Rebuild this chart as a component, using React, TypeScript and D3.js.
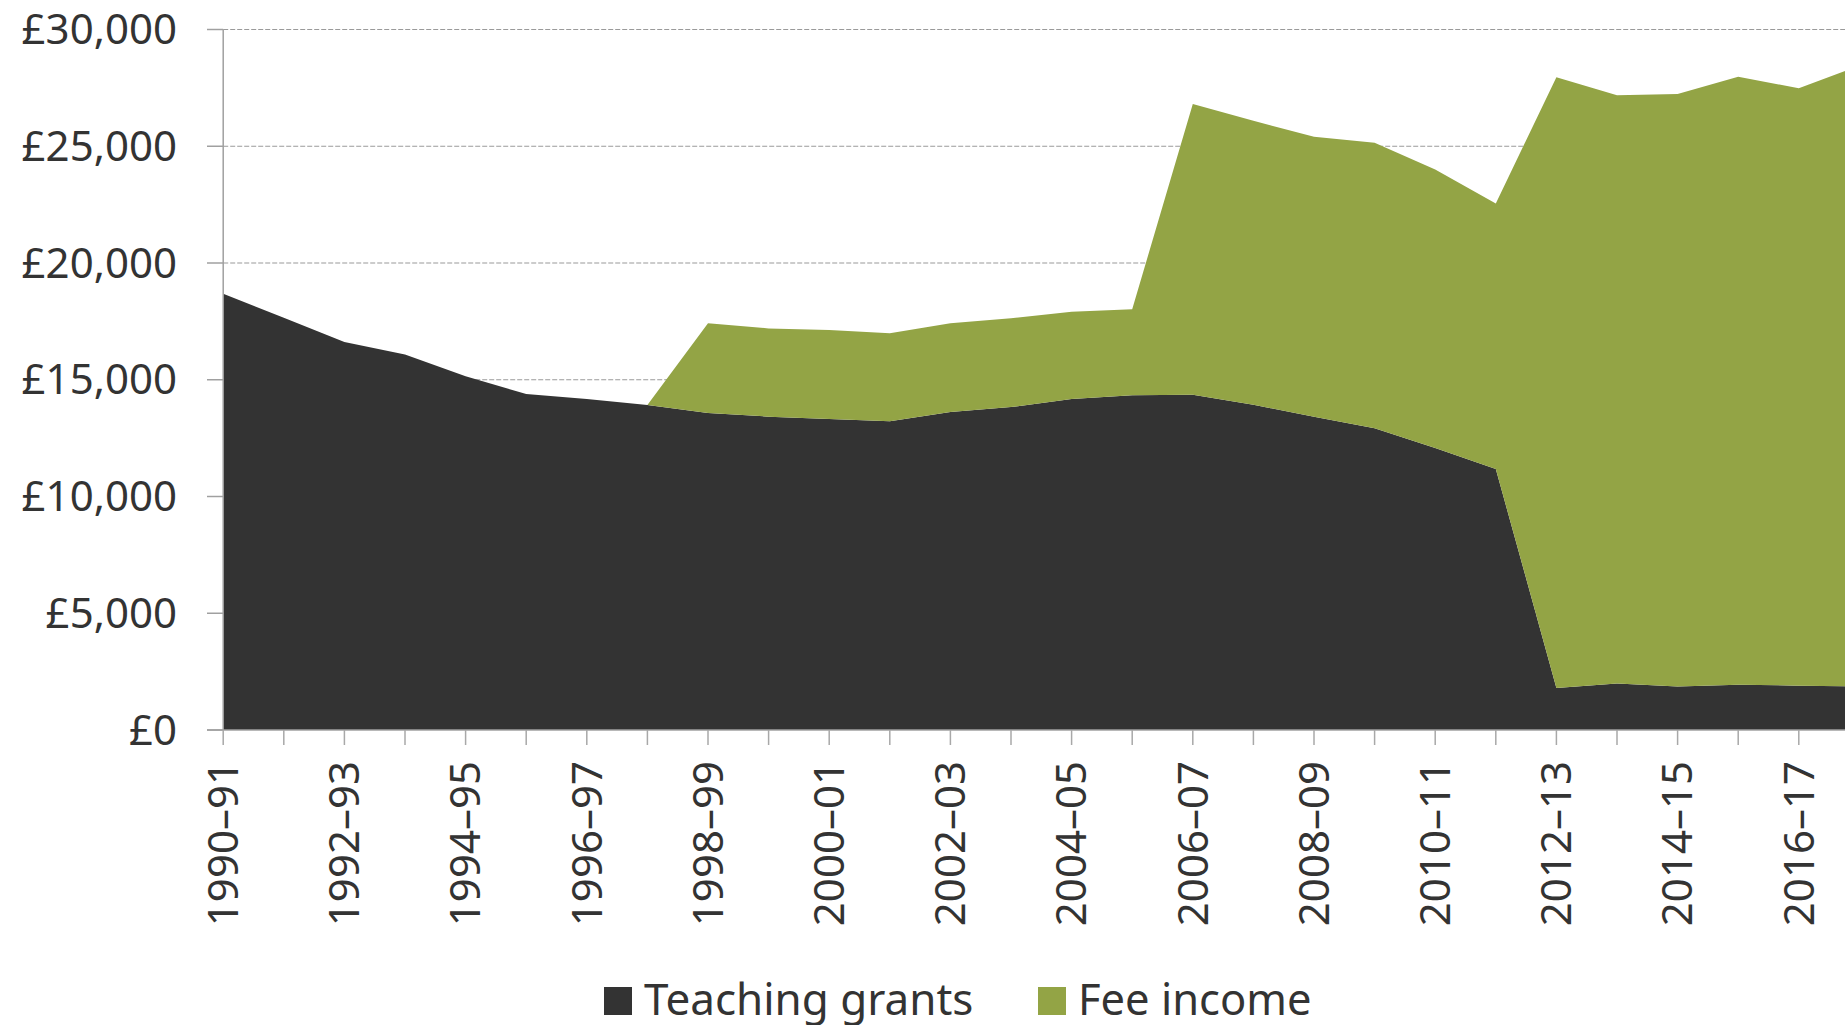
import React from "react";
import * as d3 from "d3";

const categories = [
  "1990–91", "1991–92", "1992–93", "1993–94", "1994–95", "1995–96", "1996–97",
  "1997–98", "1998–99", "1999–00", "2000–01", "2001–02", "2002–03", "2003–04",
  "2004–05", "2005–06", "2006–07", "2007–08", "2008–09", "2009–10", "2010–11",
  "2011–12", "2012–13", "2013–14", "2014–15", "2015–16", "2016–17", "2017–18",
];

const teachingGrants = [
  18680, 17650, 16620, 16080, 15150, 14390, 14180, 13920, 13580, 13420, 13320,
  13220, 13620, 13830, 14180, 14340, 14360, 13930, 13420, 12920, 12080, 11180,
  1800, 1990, 1860, 1940, 1900, 1870,
];

const feeIncome = [
  0, 0, 0, 0, 0, 0, 0, 0, 3840, 3780, 3810, 3770, 3800, 3800, 3730, 3680,
  12450, 12160, 11990, 12230, 11920, 11370, 26150, 25190, 25380, 26040, 25580,
  26590,
];

const yTicks = [0, 5000, 10000, 15000, 20000, 25000, 30000];
const seriesNames = ["Teaching grants", "Fee income"];
const seriesColors = ["#333333", "#93a445"];

const W = 1845;
const H = 1025;

export default function App() {
  const x = d3
    .scalePoint<string>()
    .domain(categories)
    .range([223.2, 223.2 + 60.6 * (categories.length - 1)]);
  const y = d3.scaleLinear().domain([0, 30000]).range([730, 29.5]);

  const rows = categories.map((c, i) => ({
    cat: c,
    teaching: teachingGrants[i],
    fee: feeIncome[i],
  }));
  const stack = d3.stack<any>().keys(["teaching", "fee"]);
  const layers = stack(rows);
  const area = d3
    .area<any>()
    .x((d) => x(d.data.cat) as number)
    .y0((d) => y(d[0]))
    .y1((d) => y(d[1]))
    .curve(d3.curveLinear);

  const fmt = (v: number) => "£" + d3.format(",")(v);
  const font = "'Noto Sans', 'Open Sans', sans-serif";
  const x0 = x(categories[0]) as number;

  return (
    <div style={{ position: "absolute", left: 0, top: 0, width: W, height: H, overflow: "hidden", background: "#fff" }}>
      <svg width={W} height={H} style={{ display: "block" }} fontFamily={font}>
        {/* gridlines */}
        {yTicks.filter((t) => t > 0).map((t) => (
          <line key={"g" + t} x1={x0} x2={W} y1={y(t)} y2={y(t)} stroke="#9a9a9a" strokeWidth={1.2} strokeDasharray="5,2" />
        ))}
        {/* areas */}
        {layers.map((layer, i) => (
          <path key={i} d={area(layer) as string} fill={seriesColors[i]} />
        ))}
        {/* y axis */}
        <line x1={x0} x2={x0} y1={y(30000)} y2={y(0)} stroke="#a0a0a0" strokeWidth={1.5} />
        {yTicks.map((t) => (
          <g key={"yt" + t}>
            <line x1={207} x2={x0} y1={y(t)} y2={y(t)} stroke="#a0a0a0" strokeWidth={1.5} />
            <text x={177} y={y(t)} dy="0.35em" textAnchor="end" fontSize={42} fill="#333">
              {fmt(t)}
            </text>
          </g>
        ))}
        {/* x axis */}
        <line x1={207} x2={W} y1={y(0)} y2={y(0)} stroke="#a0a0a0" strokeWidth={1.5} />
        {categories.map((c, i) => {
          const px = x(c) as number;
          return (
            <g key={"xt" + c}>
              <line x1={px} x2={px} y1={y(0)} y2={y(0) + 15} stroke="#a8a8a8" strokeWidth={1.5} />
              {i % 2 === 0 && (
                <text
                  transform={`translate(${px},761) rotate(-90)`}
                  dy="0.35em"
                  textAnchor="end"
                  fontSize={42}
                  fill="#333"
                >
                  {c}
                </text>
              )}
            </g>
          );
        })}
        {/* legend */}
        <rect x={604} y={987} width={28} height={28} fill={seriesColors[0]} />
        <text x={644} y={1015} fontSize={44} fill="#333">{seriesNames[0]}</text>
        <rect x={1038} y={987} width={28} height={28} fill={seriesColors[1]} />
        <text x={1078} y={1015} fontSize={43.5} fill="#333">{seriesNames[1]}</text>
      </svg>
    </div>
  );
}
